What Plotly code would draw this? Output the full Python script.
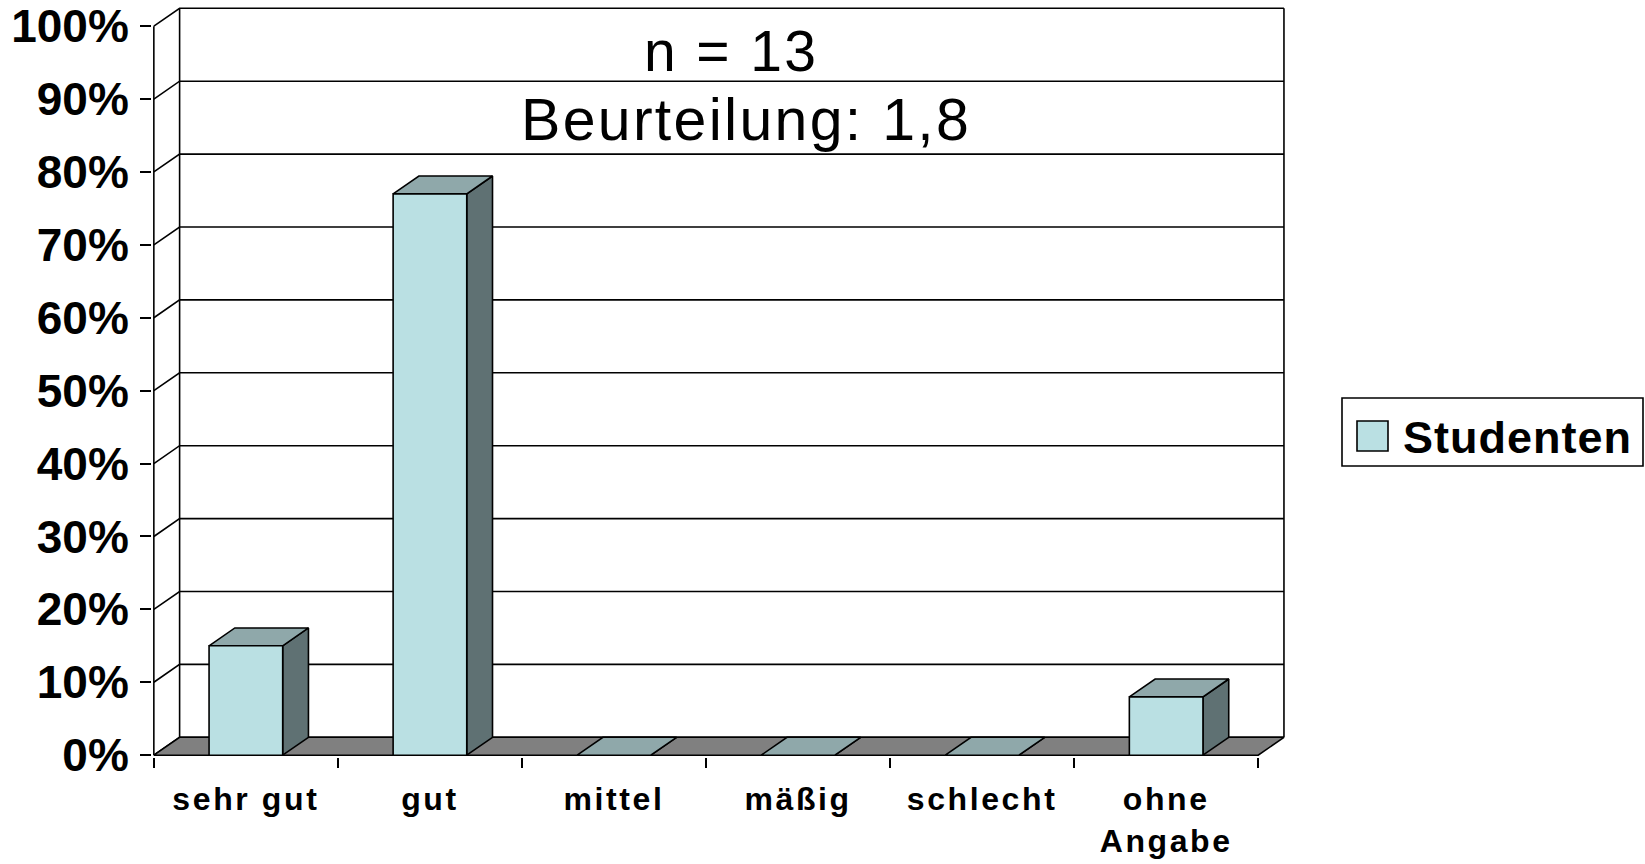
import plotly.graph_objects as go

# ---------------- data ----------------
categories = ["sehr gut", "gut", "mittel", "mäßig", "schlecht", "ohne<br>Angabe"]
values = [15, 77, 0, 0, 0, 8]          # percent, n = 13
series_name = "Studenten"
y_ticks = [0, 10, 20, 30, 40, 50, 60, 70, 80, 90, 100]
y_tick_labels = ["0%", "10%", "20%", "30%", "40%", "50%", "60%", "70%", "80%", "90%", "100%"]
title_lines = ["n = 13", "Beurteilung: 1,8"]

# ---------------- style ----------------
FRONT = "#BAE0E3"
TOP = "#8FA8AA"
SIDE = "#5F7173"
FLOOR = "#808080"
FONT = "Liberation Sans, Arial, sans-serif"
DX, DY = 0.14, 2.45      # 3-D depth offset (category units, percent units)
BW = 0.4                 # bar width (category units)
N = len(categories)

W_FIG, H_FIG = 1645, 864
L, R, T, B = 152, 350, 1, 107
PW, PH = W_FIG - L - R, H_FIG - T - B


def px(xp):
    return (xp - L) / PW


def py(yp):
    return (H_FIG - B - yp) / PH


fig = go.Figure()

# back wall, left wall diagonals and gridlines
gx, gy = [], []
for t in y_ticks:
    gx += [0, DX, N + DX, None]
    gy += [t, t + DY, t + DY, None]
gx += [0, 0, None, DX, DX, None, N + DX, N + DX, None]
gy += [0, y_ticks[-1], None, DY, y_ticks[-1] + DY, None, DY, y_ticks[-1] + DY, None]
fig.add_trace(go.Scatter(x=gx, y=gy, mode="lines", line=dict(color="black", width=1.6),
                         hoverinfo="skip", showlegend=False))

# floor
fig.add_trace(go.Scatter(x=[0, N, N + DX, DX, 0], y=[0, 0, DY, DY, 0], mode="lines",
                         fill="toself", fillcolor=FLOOR, line=dict(color="black", width=1.6),
                         hoverinfo="skip", showlegend=False))

# bars (front, side, top faces) built from the values
fx, fy, sx, sy, tx, ty = [], [], [], [], [], []
for i, v in enumerate(values):
    x0 = i + 0.5 - BW / 2
    x1 = x0 + BW
    sx += [x1, x1 + DX, x1 + DX, x1, x1, None]
    sy += [0, DY, v + DY, v, 0, None]
    tx += [x0, x1, x1 + DX, x0 + DX, x0, None]
    ty += [v, v, v + DY, v + DY, v, None]
    if v > 0:
        fx += [x0, x1, x1, x0, x0, None]
        fy += [0, 0, v, v, 0, None]

fig.add_trace(go.Scatter(x=sx, y=sy, mode="lines", fill="toself", fillcolor=SIDE,
                         line=dict(color="black", width=1.6), hoverinfo="skip", showlegend=False))
fig.add_trace(go.Scatter(x=tx, y=ty, mode="lines", fill="toself", fillcolor=TOP,
                         line=dict(color="black", width=1.6), hoverinfo="skip", showlegend=False))
fig.add_trace(go.Scatter(x=fx, y=fy, mode="lines", fill="toself", fillcolor=FRONT,
                         line=dict(color="black", width=1.6), name=series_name,
                         hoverinfo="skip", showlegend=False))

ticktext = []
for c in categories:
    parts = c.split("<br>")
    ticktext.append("<br>".join(f"<span style='letter-spacing:2.6px'>{p}</span>" for p in parts))

fig.update_xaxes(range=[-0.01, 6.2], tickmode="array", tickvals=[i + 0.5 for i in range(N)],
                 ticktext=ticktext, ticks="", showgrid=False, zeroline=False, showline=False,
                 ticklabelstandoff=20,
                 tickfont=dict(family=FONT, size=32, color="black", weight="bold"),
                 minor=dict(tickmode="array", tickvals=list(range(N + 1)), ticks="outside",
                            ticklen=10, tickwidth=1.6, tickcolor="black", showgrid=False),
                 automargin=False, fixedrange=True)
fig.update_yaxes(range=[-0.25, 103.45], tickmode="array", tickvals=y_ticks, ticktext=y_tick_labels,
                 ticks="outside", ticklen=11, tickwidth=1.6, tickcolor="black",
                 showgrid=False, zeroline=False, showline=False, ticklabelstandoff=2,
                 tickfont=dict(family=FONT, size=46, color="black", weight="bold"),
                 automargin=False, fixedrange=True)

# title texts inside the chart
fig.add_annotation(x=px(731), y=py(51), xref="paper", yref="paper", showarrow=False,
                   text=f"<span style='letter-spacing:2.4px'>{title_lines[0]}</span>",
                   font=dict(family=FONT, size=57, color="black"), xanchor="center", yanchor="middle")
fig.add_annotation(x=px(746), y=py(120), xref="paper", yref="paper", showarrow=False,
                   text=f"<span style='letter-spacing:2.3px'>{title_lines[1]}</span>",
                   font=dict(family=FONT, size=59, color="black"), xanchor="center", yanchor="middle")

# legend (frame, swatch, label)
fig.add_shape(type="rect", xref="paper", yref="paper", x0=px(1342), x1=px(1643), y0=py(466), y1=py(398),
              line=dict(color="black", width=1.6), fillcolor="white")
fig.add_shape(type="rect", xref="paper", yref="paper", x0=px(1357), x1=px(1388), y0=py(451), y1=py(421),
              line=dict(color="black", width=1.6), fillcolor=FRONT)
fig.add_annotation(x=px(1401), y=py(437), xref="paper", yref="paper", showarrow=False,
                   text=f"<span style='letter-spacing:1px'>{series_name}</span>",
                   font=dict(family=FONT, size=45, color="black", weight="bold"),
                   xanchor="left", yanchor="middle")

fig.update_layout(width=W_FIG, height=H_FIG, margin=dict(l=L, r=R, t=T, b=B, pad=0),
                  paper_bgcolor="white", plot_bgcolor="white", showlegend=False)

fig.write_html("out.html", config={"displayModeBar": False},
               post_script="document.body.style.margin='0';document.body.style.overflow='hidden';")
